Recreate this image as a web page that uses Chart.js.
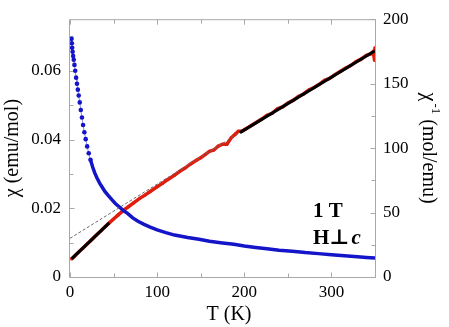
<!DOCTYPE html>
<html><head><meta charset="utf-8">
<script src="https://cdn.jsdelivr.net/npm/chart.js@4"></script>
<style>html,body{margin:0;padding:0;background:#fff}canvas{display:block}</style>
</head><body>
<canvas id="c" width="449" height="327"></canvas>
<script>
// ---- data ----
const tempBlue = [1.8, 2.1, 2.5, 3.0, 3.6, 4.3, 5.1, 6.0, 7.0, 8.0, 9.0, 10.0, 11.2, 12.4, 13.7, 15.0, 16.5, 18.0, 19.7, 21.5, 23.5, 26, 28.5, 31, 34, 37, 40, 44, 48, 52, 56, 61, 66, 72, 78, 85, 92, 100, 110, 120, 135, 148, 160, 175, 188, 200, 213, 226, 240, 255, 270, 285, 300, 315, 330, 340, 350];
const chiBlue = [0.0693, 0.0680, 0.0667, 0.0655, 0.0643, 0.0632, 0.0617, 0.0600, 0.0580, 0.0562, 0.0545, 0.0528, 0.0508, 0.0486, 0.0464, 0.0442, 0.0421, 0.0401, 0.0380, 0.0360, 0.0341, 0.0320, 0.0302, 0.0288, 0.0273, 0.0261, 0.0249, 0.0237, 0.0225, 0.0214, 0.0205, 0.0194, 0.0185, 0.0172, 0.0162, 0.0153, 0.0145, 0.0137, 0.0129, 0.0122, 0.0115, 0.0110, 0.0104, 0.0099, 0.0095, 0.0090, 0.0086, 0.0082, 0.0078, 0.0075, 0.0071, 0.0068, 0.0065, 0.0062, 0.0059, 0.0057, 0.0055];

const tempRed = [1.8, 5, 10, 15, 20, 25, 30, 35, 40, 45, 50, 55, 61, 67, 73, 80, 86, 92, 100, 106, 112, 120, 126, 132, 138, 145, 150, 155, 160, 165, 170, 175, 180, 185, 190, 193, 197, 202, 208, 214, 220, 226, 232, 238, 244, 250, 256, 262, 268, 274, 280, 286, 292, 298, 304, 310, 316, 322, 328, 334, 340, 345, 348, 349.5, 350];
const invChiRed = [14, 16, 19.3, 22.5, 25.8, 29, 32.3, 35.5, 38.8, 42, 45, 48, 51.5, 54.5, 57.5, 61, 63.5, 66.3, 70, 72.6, 75.5, 79, 82, 84.5, 87.5, 90.5, 92.5, 95, 97.5, 98.5, 101.5, 103, 103, 108, 111, 113, 113, 115, 117.5, 120, 122.5, 125.5, 127, 130.5, 132, 135, 137, 140, 142, 145, 147, 149.5, 152.5, 154, 157, 159.5, 162, 164, 167, 169, 172, 173, 175, 168, 178];

const fitLowT = [1.8, 45];
const fitLowV = [14, 42];
const fitHighT = [195, 350];
const fitHighV = [112, 175.5];
const dashT = [0, 195];
const dashV = [30, 112];

const xTicks = [0, 100, 200, 300];
const xMinorTicks = [50, 150, 250, 350];
const yLeftTicks = [0, 0.02, 0.04, 0.06];
const yLeftMinorTicks = [0.01, 0.03, 0.05, 0.07];
const yRightTicks = [0, 50, 100, 150, 200];
const yRightMinorTicks = [25, 75, 125, 175];

const SERIF = "'Liberation Serif', 'Times New Roman', 'DejaVu Serif', serif";
const BLUE = '#1414c8';
const RED = '#e01e0e';

function pts(xs, ys) { return xs.map((x, i) => ({ x: x, y: ys[i] })); }

const framePlugin = {
  id: 'frame',
  beforeDatasetsDraw(chart) {
    const { ctx, chartArea: a, scales } = chart;
    ctx.save();
    ctx.strokeStyle = '#a8a8a8';
    ctx.lineWidth = 1;
    const L = a.left - 0.5, R = a.right + 0.5, T = a.top + 0.5, B = a.bottom + 0.5;
    ctx.beginPath();
    ctx.moveTo(L, T); ctx.lineTo(R, T); ctx.lineTo(R, B); ctx.lineTo(L, B); ctx.closePath();
    ctx.stroke();
    ctx.beginPath();
    const xt = (vals, len) => vals.forEach(v => {
      const p = Math.round(scales.x.getPixelForValue(v)) + 0.5;
      ctx.moveTo(p, B); ctx.lineTo(p, B - len);
      ctx.moveTo(p, T); ctx.lineTo(p, T + len);
    });
    xt(xTicks, 5); xt(xMinorTicks, 4);
    const yl = (vals, len) => vals.forEach(v => {
      const p = Math.round(scales.yL.getPixelForValue(v)) + 0.5;
      ctx.moveTo(L, p); ctx.lineTo(L + len, p);
    });
    yl(yLeftTicks, 5); yl(yLeftMinorTicks, 4);
    const yr = (vals, len) => vals.forEach(v => {
      const p = Math.round(scales.yR.getPixelForValue(v)) + 0.5;
      ctx.moveTo(R, p); ctx.lineTo(R - len, p);
    });
    yr(yRightTicks, 5); yr(yRightMinorTicks, 4);
    ctx.stroke();
    ctx.restore();
  },
  afterDraw(chart) {
    const { ctx, chartArea: a } = chart;
    ctx.save();
    ctx.fillStyle = '#000';
    ctx.textBaseline = 'middle';
    // left title
    ctx.font = '20px ' + SERIF;
    ctx.textAlign = 'center';
    ctx.save();
    ctx.translate(13, (a.top + a.bottom) / 2);
    ctx.rotate(-Math.PI / 2);
    ctx.fillText('χ (emu/mol)', 0, 0);
    ctx.restore();
    // x title
    ctx.fillText('T (K)', 229, 315);
    // right title with superscript
    ctx.save();
    ctx.translate(428, (a.top + a.bottom) / 2);
    ctx.rotate(Math.PI / 2);
    ctx.textAlign = 'left';
    const f1 = '20px ' + SERIF, f2 = '13px ' + SERIF;
    ctx.font = f1; const w1 = ctx.measureText('χ').width; const w3 = ctx.measureText(' (mol/emu)').width;
    ctx.font = f2; const w2 = ctx.measureText('-1').width;
    let x0 = -(w1 + 2 + w2 + w3) / 2;
    ctx.font = f1; ctx.fillText('χ', x0, 0); x0 += w1 + 2;
    ctx.font = f2; ctx.fillText('-1', x0, -7); x0 += w2;
    ctx.font = f1; ctx.fillText(' (mol/emu)', x0, 0);
    ctx.restore();
    // annotations
    ctx.textAlign = 'left';
    ctx.font = 'bold 21px ' + SERIF;
    ctx.fillText('1 T', 313, 212);
    ctx.fillText('H\u22A5', 313, 239);
    const wh = ctx.measureText('H\u22A5').width;
    ctx.font = 'italic bold 21px ' + SERIF;
    ctx.fillText('c', 313 + wh + 2, 239);
    ctx.restore();
  }
};

const tickFont = { family: SERIF, size: 17 };

new Chart(document.getElementById('c'), {
  type: 'line',
  data: {
    datasets: [
      {
        label: 'inverse chi',
        data: pts(tempRed, invChiRed),
        yAxisID: 'yR',
        borderColor: RED,
        backgroundColor: RED,
        borderWidth: 3.5,
        pointRadius: 1.6,
        pointBorderWidth: 0,
        tension: 0,
        order: 4
      },
      {
        label: 'chi',
        data: pts(tempBlue, chiBlue),
        yAxisID: 'yL',
        borderColor: BLUE,
        backgroundColor: BLUE,
        borderWidth: 3.5,
        segment: {
          borderWidth: c => (c.p0.parsed.x < 22 ? 1 : 3.5),
          borderColor: c => (c.p0.parsed.x < 22 ? '#8a8ae0' : BLUE)
        },
        pointRadius: c => (c.raw && c.raw.x < 24 ? 2.3 : 0),
        pointBorderWidth: 0,
        tension: 0,
        order: 3
      },
      {
        label: 'dashed extrapolation',
        data: pts(dashT, dashV),
        yAxisID: 'yR',
        borderColor: '#6a6a6a',
        borderWidth: 1,
        borderDash: [3, 2],
        pointRadius: 0,
        order: 2
      },
      {
        label: 'low-T fit',
        data: pts(fitLowT, fitLowV),
        yAxisID: 'yR',
        borderColor: '#000',
        borderWidth: 3,
        pointRadius: 0,
        order: 1
      },
      {
        label: 'high-T fit',
        data: pts(fitHighT, fitHighV),
        yAxisID: 'yR',
        borderColor: '#000',
        borderWidth: 3,
        pointRadius: 0,
        order: 0
      }
    ]
  },
  options: {
    responsive: false,
    devicePixelRatio: 1,
    animation: false,
    layout: { padding: { top: 10, left: 0, right: 0, bottom: 0 } },
    plugins: { legend: { display: false }, tooltip: { enabled: false } },
    scales: {
      x: {
        type: 'linear', position: 'bottom', min: 0, max: 350,
        grid: { display: false, drawTicks: false }, border: { display: false },
        afterBuildTicks: s => { s.ticks = xTicks.map(v => ({ value: v })); },
        afterFit: s => { s.height = 50; },
        ticks: { font: tickFont, color: '#000', padding: 5, maxRotation: 0, autoSkip: false, callback: v => String(v) }
      },
      yL: {
        type: 'linear', position: 'left', min: 0, max: 0.075,
        grid: { display: false, drawTicks: false }, border: { display: false },
        afterBuildTicks: s => { s.ticks = yLeftTicks.map(v => ({ value: v })); },
        afterFit: s => { s.width = 70; },
        ticks: { font: tickFont, color: '#000', padding: 9, autoSkip: false, callback: v => (v === 0 ? '0' : v.toFixed(2)) }
      },
      yR: {
        type: 'linear', position: 'right', min: 0, max: 200,
        grid: { display: false, drawTicks: false }, border: { display: false },
        afterBuildTicks: s => { s.ticks = yRightTicks.map(v => ({ value: v })); },
        afterFit: s => { s.width = 74; },
        ticks: { font: tickFont, color: '#000', padding: 8, autoSkip: false, callback: v => String(v) }
      }
    }
  },
  plugins: [framePlugin]
});
</script>
</body></html>
